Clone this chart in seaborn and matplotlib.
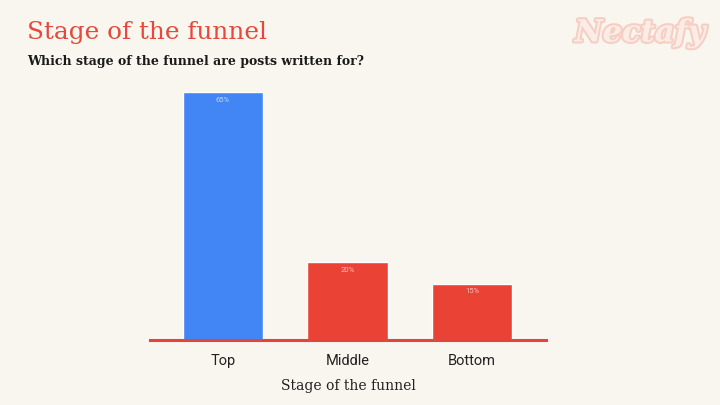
import matplotlib
matplotlib.use("Agg")
import matplotlib.pyplot as plt
import matplotlib.patheffects as pe
import seaborn as sns
import pandas as pd

# Data
stages = ["Top", "Middle", "Bottom"]
shares = [65.0, 20.4, 14.7]
bar_colors = ["#4285f4", "#ea4335", "#ea4335"]

bg = "#f9f6f0"
sns.set_theme(style="white")
plt.rcParams["font.family"] = ["Roboto", "DejaVu Sans"]

df = pd.DataFrame({"stage": stages, "share": shares})

fig = plt.figure(figsize=(7.2, 4.05), dpi=100, facecolor=bg)
ax = fig.add_axes([150 / 720, 1 - 340 / 405, 396 / 720, 248 / 405])
ax.set_facecolor(bg)

sns.barplot(data=df, x="stage", y="share", hue="stage", palette=bar_colors,
            width=0.643, legend=False, ax=ax, saturation=1)

# Valores dentro das barras
for i, v in enumerate(shares):
    ax.text(i, v - 1.2, f"{round(v)}%", ha="center", va="top", fontsize=5.5,
            color="white", alpha=0.65)

ax.set_ylim(0, 65)
ax.set_xlim(-0.586, 2.594)
ax.set_yticks([])
for s in ["top", "right", "left"]:
    ax.spines[s].set_visible(False)
ax.spines["bottom"].set_color("#e0473a")
ax.spines["bottom"].set_linewidth(2.2)
ax.tick_params(axis="x", length=0, pad=10, labelsize=10.5, labelcolor="#222222")
ax.set_xlabel("Stage of the funnel", fontsize=10, family="DejaVu Serif",
              color="#222222", labelpad=8)
ax.set_ylabel("")

# Títulos
fig.text(27 / 720, 1 - 32 / 405, "Stage of the funnel", fontsize=17.8,
         family="DejaVu Serif", color="#e8473b", va="center", ha="left")
fig.text(27 / 720, 1 - 61 / 405, "Which stage of the funnel are posts written for?",
         fontsize=9, family="DejaVu Serif", fontweight="bold", color="#1a1a1a",
         va="center", ha="left")

# Marca d'água
fig.text(640 / 720, 1 - 33 / 405, "Nectafy", fontsize=22, family="DejaVu Serif",
         style="italic", fontweight="bold", color="#fbece6", ha="center", va="center",
         path_effects=[pe.withStroke(linewidth=3, foreground="#f6cfc4")])

fig.savefig("out.png", dpi=100, facecolor=bg)
